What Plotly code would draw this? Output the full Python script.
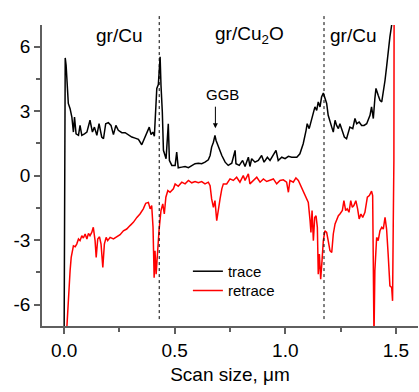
import plotly.graph_objects as go

# ---- data ----
trace_x = [0.000, 0.005, 0.009, 0.019, 0.027, 0.035, 0.042, 0.047, 0.054, 0.065, 0.072, 0.080, 0.092, 0.103,
           0.117, 0.128, 0.137, 0.148, 0.158, 0.170, 0.178, 0.188, 0.200, 0.212, 0.223, 0.234, 0.245, 0.261,
           0.276, 0.291, 0.306, 0.321, 0.336, 0.351, 0.363, 0.374, 0.385, 0.393, 0.401, 0.408, 0.414, 0.419,
           0.426, 0.434, 0.438, 0.444, 0.449, 0.452, 0.461, 0.471, 0.476, 0.487, 0.502, 0.509, 0.516, 0.532,
           0.547, 0.562, 0.577, 0.592, 0.607, 0.622, 0.637, 0.652, 0.660, 0.667, 0.675, 0.682, 0.687, 0.697,
           0.713, 0.728, 0.742, 0.758, 0.773, 0.777, 0.792, 0.807, 0.818, 0.833, 0.840, 0.848, 0.863, 0.878,
           0.893, 0.904, 0.919, 0.931, 0.946, 0.958, 0.968, 0.984, 0.999, 1.014, 1.029, 1.052, 1.066, 1.081,
           1.094, 1.099, 1.108, 1.119, 1.127, 1.134, 1.142, 1.149, 1.157, 1.164, 1.172, 1.179, 1.187, 1.194,
           1.202, 1.210, 1.217, 1.225, 1.232, 1.240, 1.247, 1.259, 1.267, 1.277, 1.285, 1.292, 1.305, 1.315,
           1.323, 1.334, 1.345, 1.356, 1.368, 1.383, 1.390, 1.398, 1.405, 1.410, 1.420, 1.428, 1.436, 1.443,
           1.451, 1.458, 1.465, 1.473, 1.481, 1.487]
trace_y = [-7.5, 5.47, 5.13, 3.35, 3.11, 2.72, 2.02, 2.72, 1.94, 1.87, 2.33, 1.87, 1.94, 2.02,
           2.57, 2.02, 2.25, 1.87, 2.41, 1.79, 1.71, 2.41, 2.46, 2.33, 1.90, 2.33, 2.10, 1.99,
           1.99, 1.87, 1.79, 1.74, 1.68, 1.43, 1.71, 1.94, 2.25, 1.90, 2.02, 1.83, 2.80, 4.05,
           4.23, 5.52, 4.20, 2.95, 1.17, 1.09, 0.78, 2.41, 0.70, 0.47, 0.47, 1.09, 0.36, 0.39,
           0.42, 0.36, 0.47, 0.55, 0.57, 0.55, 0.62, 0.73, 0.93, 1.32, 1.55, 1.87, 1.63, 1.32,
           0.93, 0.62, 0.47, 0.57, 1.17, 0.55, 0.47, 0.70, 0.42, 0.85, 0.42, 0.78, 0.62, 0.70,
           0.93, 0.62, 0.85, 0.70, 0.93, 1.17, 0.70, 0.85, 0.78, 0.89, 0.85, 0.85, 1.01, 1.48,
           2.10, 2.41, 2.18, 2.57, 2.88, 3.19, 3.03, 3.42, 3.19, 3.65, 3.84, 3.58, 3.35, 2.80,
           2.57, 2.25, 2.02, 2.57, 2.33, 2.18, 2.41, 2.02, 1.79, 1.71, 2.02, 2.25, 2.18, 2.65,
           2.41, 2.49, 2.33, 2.33, 2.41, 2.80, 3.19, 2.65, 3.58, 4.05, 3.73, 3.50, 3.42, 3.81,
           4.43, 5.05, 5.83, 6.45, 7.00, 7.70]

retrace_x = [0.010, 0.017, 0.023, 0.027, 0.032, 0.038, 0.042, 0.050, 0.057, 0.065, 0.072, 0.080, 0.087, 0.095,
             0.103, 0.110, 0.117, 0.125, 0.132, 0.140, 0.145, 0.152, 0.160, 0.167, 0.175, 0.182, 0.190, 0.197,
             0.208, 0.223, 0.238, 0.253, 0.268, 0.283, 0.298, 0.313, 0.329, 0.343, 0.358, 0.369, 0.381, 0.389,
             0.396, 0.402, 0.407, 0.411, 0.416, 0.422, 0.429, 0.438, 0.446, 0.453, 0.460, 0.469, 0.479, 0.494,
             0.502, 0.516, 0.532, 0.547, 0.562, 0.577, 0.592, 0.607, 0.622, 0.637, 0.652, 0.660, 0.667, 0.675,
             0.682, 0.690, 0.697, 0.705, 0.713, 0.720, 0.735, 0.750, 0.765, 0.780, 0.795, 0.810, 0.818, 0.833,
             0.840, 0.855, 0.871, 0.886, 0.901, 0.916, 0.931, 0.946, 0.961, 0.976, 0.991, 1.006, 1.014, 1.021,
             1.036, 1.048, 1.059, 1.070, 1.081, 1.094, 1.104, 1.112, 1.116, 1.121, 1.127, 1.133, 1.139, 1.145,
             1.149, 1.154, 1.160, 1.166, 1.172, 1.179, 1.187, 1.194, 1.202, 1.210, 1.217, 1.225, 1.232, 1.240,
             1.247, 1.258, 1.265, 1.273, 1.280, 1.288, 1.296, 1.303, 1.310, 1.319, 1.327, 1.334, 1.342, 1.350,
             1.360, 1.371, 1.380, 1.390, 1.395, 1.401, 1.405, 1.413, 1.420, 1.428, 1.436, 1.443, 1.451, 1.458,
             1.465, 1.473, 1.481, 1.485, 1.488, 1.491, 1.492]
retrace_y = [-7.5, -5.99, -5.21, -4.43, -3.81, -3.50, -3.27, -3.31, -3.19, -2.95, -3.03, -2.80, -2.91, -2.72,
             -2.95, -2.69, -2.80, -2.65, -2.41, -3.03, -3.81, -2.95, -2.85, -3.19, -4.28, -3.19, -2.88, -3.03,
             -2.88, -2.95, -2.85, -2.75, -2.57, -2.49, -2.33, -2.18, -1.95, -1.79, -1.55, -1.29, -1.25, -1.55,
             -1.40, -2.41, -4.75, -3.50, -4.59, -3.35, -2.57, -1.63, -1.32, -1.79, -1.01, -0.70, -0.78, -0.62,
             -0.39, -0.50, -0.31, -0.39, -0.23, -0.34, -0.28, -0.34, -0.28, -0.39, -0.31, -0.47, -1.09, -1.48,
             -1.17, -2.10, -1.55, -1.09, -0.62, -0.39, -0.39, -0.16, -0.23, -0.08, -0.31, 0.00, -0.23, 0.08,
             -0.39, -0.23, -0.08, -0.31, -0.16, -0.28, -0.23, -0.16, -0.39, -0.23, -0.20, -0.31, -0.78, -0.23,
             -0.31, -0.11, -0.23, -0.47, -0.70, -1.01, -1.25, -2.10, -2.65, -1.63, -3.03, -1.95, -1.87, -2.41,
             -4.59, -3.65, -4.82, -3.97, -3.03, -2.57, -2.65, -3.03, -3.50, -3.58, -2.72, -2.25, -2.02, -1.87,
             -1.79, -1.63, -1.17, -1.63, -1.55, -1.71, -1.17, -1.48, -1.40, -1.17, -1.55, -2.02, -1.79, -1.95,
             -1.71, -1.01, -0.93, -0.73, -0.93, -7.5, -4.43, -2.88, -3.03, -2.57, -2.41, -2.49, -1.95, -2.49,
             -3.65, -5.13, -5.21, -5.83, -2.41, 0.70, 7.70]

series_names = ["trace", "retrace"]
series_colors = ["#000000", "#ff0000"]

boundary_x = [0.43, 1.175]
region_labels = ["gr/Cu", "gr/Cu<sub>2</sub>O", "gr/Cu"]
region_label_x = [0.249, 0.838, 1.306]
region_label_y = 6.53
ggb_text_x, ggb_text_y = 0.718, 3.78
ggb_arrow_x, ggb_arrow_tail_y, ggb_arrow_head_y = 0.684, 3.27, 2.2

x_range = [-0.1, 1.6]
y_range = [-7, 7]
x_ticks = [0.0, 0.5, 1.0, 1.5]
x_ticklabels = ["0.0", "0.5", "1.0", "1.5"]
y_ticks = [-6, -3, 0, 3, 6]
y_ticklabels = ["-6", "-3", "0", "3", "6"]

FONT = "Liberation Sans, Arial, sans-serif"
AXC = "#5f5f5f"

fig = go.Figure()
for xs, ys, name, col, lg in [(trace_x, trace_y, series_names[0], series_colors[0], "legend"),
                              (retrace_x, retrace_y, series_names[1], series_colors[1], "legend2")]:
    fig.add_trace(go.Scatter(x=xs, y=ys, mode="lines", name=name, legend=lg,
                             line=dict(color=col, width=1.5)))

shapes = []
for bx in boundary_x:
    shapes.append(dict(type="line", xref="x", yref="paper", x0=bx, x1=bx, y0=0.023, y1=1.037,
                       line=dict(color="black", width=1, dash="dot")))

annotations = []
for t, xx in zip(region_labels, region_label_x):
    annotations.append(dict(x=xx, y=region_label_y, xref="x", yref="y", text=t, showarrow=False,
                            font=dict(family=FONT, size=19, color="black")))
annotations.append(dict(x=ggb_text_x, y=ggb_text_y, xref="x", yref="y", text="GGB", showarrow=False,
                        font=dict(family=FONT, size=15, color="black")))
annotations.append(dict(x=ggb_arrow_x, y=ggb_arrow_head_y, ax=ggb_arrow_x, ay=ggb_arrow_tail_y,
                        xref="x", yref="y", axref="x", ayref="y", text="", showarrow=True,
                        arrowhead=2, arrowsize=1, arrowwidth=1, arrowcolor="black"))

leg_common = dict(xanchor="left", yanchor="top", bgcolor="rgba(0,0,0,0)",
                  font=dict(family=FONT, size=15, color="black"), itemwidth=30)

fig.update_layout(
    width=419, height=392,
    margin=dict(l=42, r=1, t=25, b=66),
    plot_bgcolor="white", paper_bgcolor="white",
    font=dict(family=FONT, size=19, color="black"),
    shapes=shapes, annotations=annotations,
    showlegend=True,
    legend=dict(x=0.388, y=0.236, **leg_common),
    legend2=dict(x=0.388, y=0.172, **leg_common),
    xaxis=dict(range=x_range, tickvals=x_ticks, ticktext=x_ticklabels, showgrid=False, zeroline=False,
               showline=True, linecolor=AXC, linewidth=1.5, ticks="outside", ticklen=6, tickwidth=1.5,
               tickcolor=AXC, tickfont=dict(family=FONT, size=19, color="black"),
               minor=dict(dtick=0.25, tick0=0, ticks="outside", ticklen=4, tickwidth=1.5, tickcolor=AXC),
               title=dict(text="Scan size, μm", font=dict(family=FONT, size=19, color="black"), standoff=8)),
    yaxis=dict(range=y_range, tickvals=y_ticks, ticktext=y_ticklabels, showgrid=False, zeroline=False,
               showline=True, linecolor=AXC, linewidth=1.5, ticks="outside", ticklen=6, tickwidth=1.5,
               tickcolor=AXC, tickfont=dict(family=FONT, size=19, color="black"),
               minor=dict(dtick=1.5, tick0=0, ticks="outside", ticklen=4, tickwidth=1.5, tickcolor=AXC)),
)

fig.write_html("out.html")
